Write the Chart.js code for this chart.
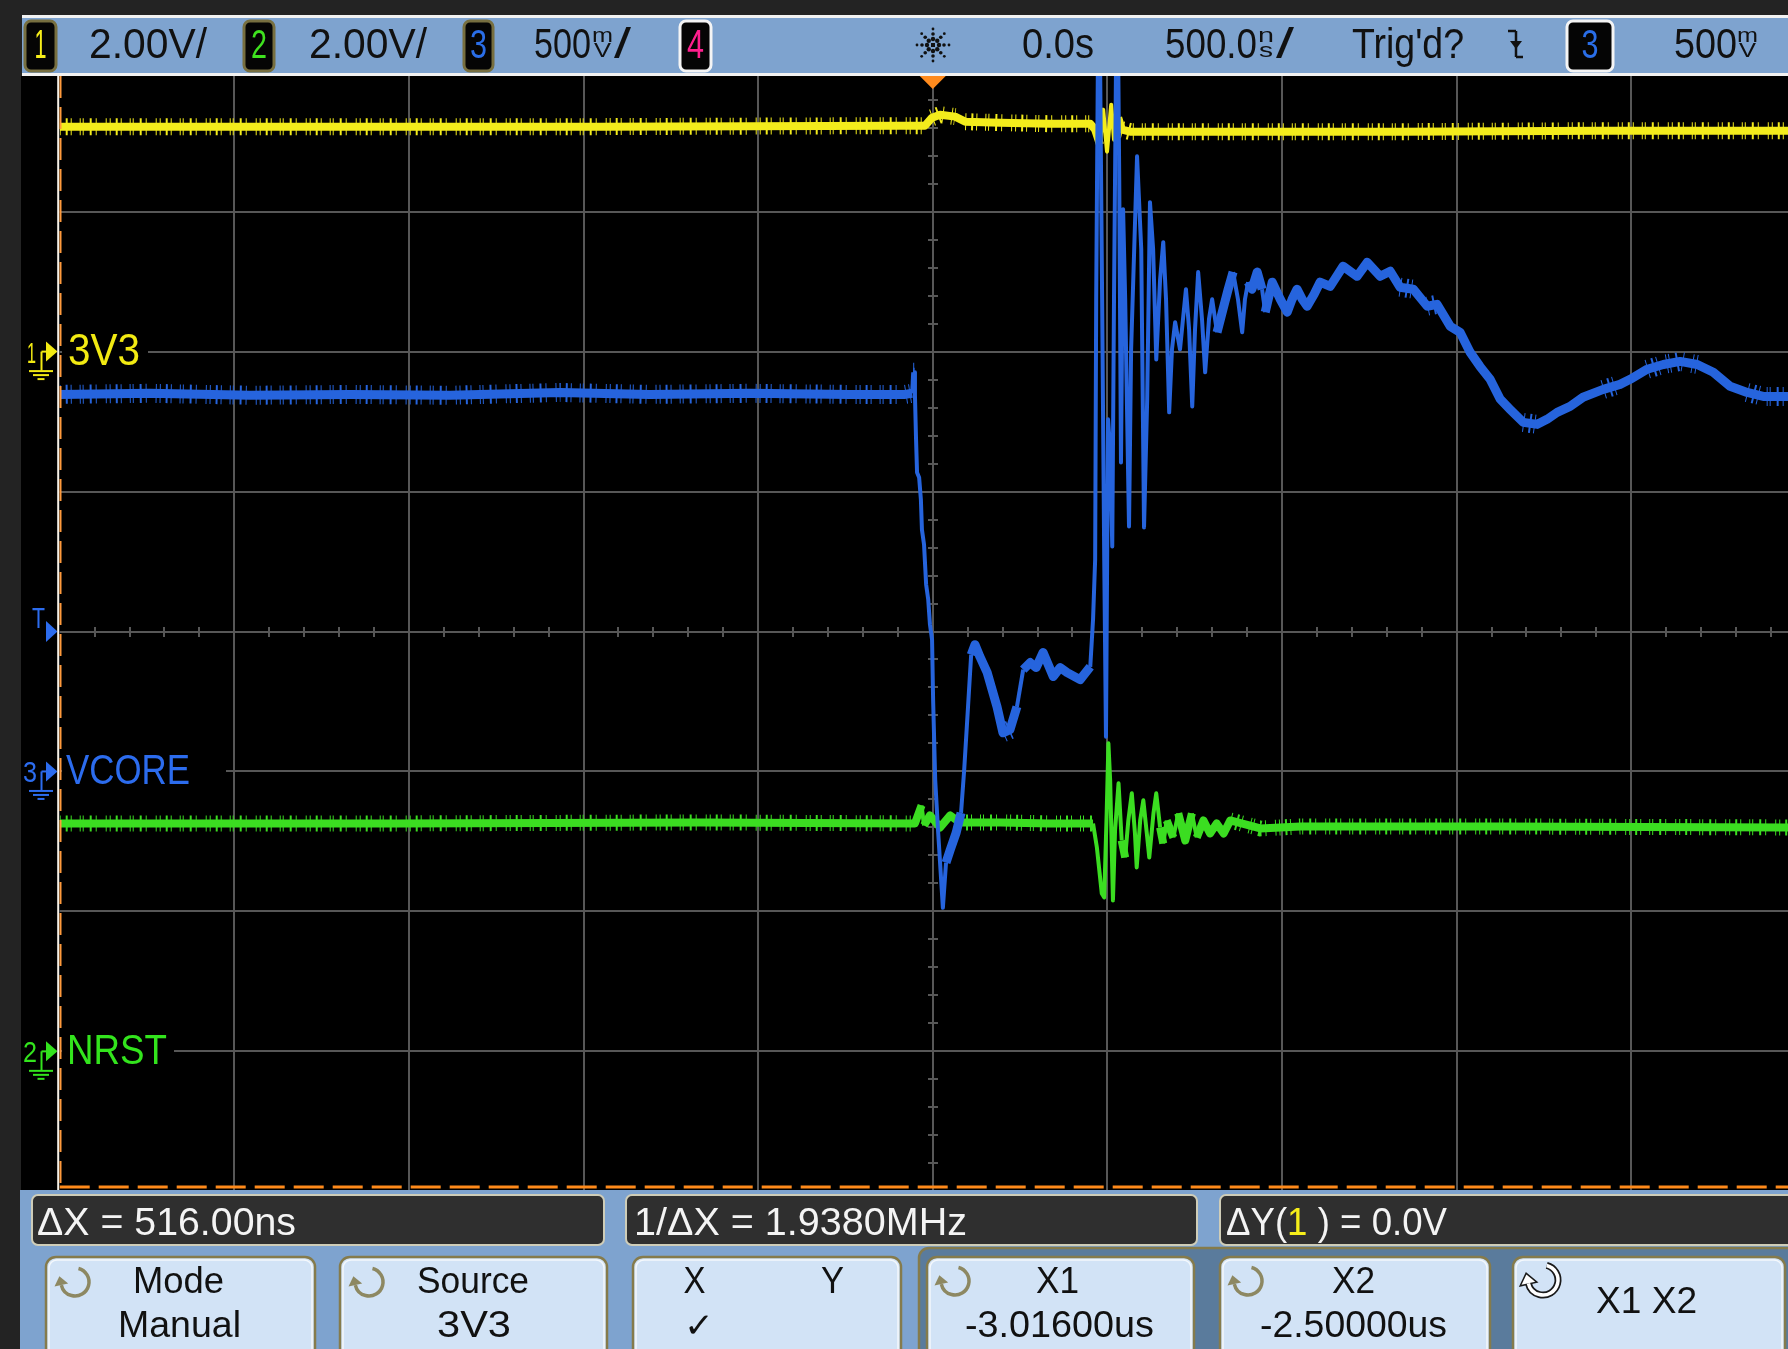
<!DOCTYPE html>
<html>
<head>
<meta charset="utf-8">
<script src="https://cdn.jsdelivr.net/npm/chart.js@4.4.1/dist/chart.umd.min.js"></script>
<style>
html, body { margin: 0; padding: 0; background: #232323; }
canvas { display: block; }
</style>
</head>
<body>
<canvas id="scope" width="1788" height="1349"></canvas>
<script>
// ---- Channel 1: 3V3 rail (2.00 V/div) ----
const time3V3 = [-2500, -1812, -953, -94, -22, -2, 21, 64, 93, 193, 336, 451, 465, 479, 488, 499, 511, 519, 531, 542, 565, 766, 1338, 1911, 2450];
const volts3V3 = [3.215, 3.215, 3.215, 3.229, 3.229, 3.343, 3.386, 3.358, 3.286, 3.272, 3.257, 3.257, 3.172, 2.957, 3.458, 2.857, 3.529, 3.029, 3.343, 3.172, 3.143, 3.143, 3.143, 3.157, 3.157];

// ---- Channel 3: VCORE (500 mV/div) ----
const timeVcore = [-2500, -2242, -1955, -1669, -1382, -1067, -810, -523, -237, -79,
  -59, -56, -52, -51, -48, -45, -39, -34, -31, -25,
  -19, -13, -8, -2, 1, 7, 15, 24, 29, 38,
  50, 67, 81, 90, 101, 110, 121, 135, 156, 184,
  201, 221, 241, 259, 279, 296, 316, 345, 365, 385,
  422, 451, 459, 465, 468, 473, 479, 485, 491, 496,
  502, 508, 514, 519, 525, 531, 534, 539, 545, 551,
  562, 568, 585, 597, 605, 614, 622, 631, 640, 651,
  660, 668, 677, 685, 694, 708, 725, 734, 743, 751,
  760, 771, 780, 791, 800, 814, 831, 846, 860, 874,
  886, 894, 903, 914, 929, 943, 952, 972, 995, 1015,
  1029, 1043, 1058, 1072, 1092, 1109, 1138, 1175, 1215, 1244,
  1281, 1310, 1338, 1376, 1416, 1444, 1482, 1510, 1539, 1567,
  1596, 1625, 1653, 1691, 1731, 1759, 1788, 1825, 1862, 1920,
  1968, 1997, 2046, 2092, 2140, 2189, 2235, 2283, 2332, 2378,
  2450];
const voltsVcore = [1.347, 1.351, 1.344, 1.347, 1.344, 1.354, 1.347, 1.351, 1.347, 1.347,
  1.351, 1.426, 1.426, 1.344, 1.193, 1.068, 1.050, 0.972, 0.864, 0.811,
  0.668, 0.614, 0.525, 0.471, 0.257, -0.030, -0.208, -0.387, -0.487, -0.326,
  -0.280, -0.219, -0.148, 0.006, 0.231, 0.417, 0.453, 0.410, 0.353, 0.231,
  0.138, 0.149, 0.231, 0.364, 0.389, 0.371, 0.425, 0.339, 0.371, 0.353,
  0.328, 0.374, 0.543, 0.757, 1.687, 2.56, 2.56, 1.687, 0.757, 0.124,
  1.258, 1.151, 0.804, 1.687, 2.56, 2.56, 2.116, 1.104, 2.009, 1.687,
  0.875, 1.508, 2.198, 1.866, 0.872, 1.329, 2.034, 1.866, 1.472, 1.758,
  1.891, 1.687, 1.283, 1.508, 1.605, 1.508, 1.723, 1.580, 1.304, 1.580,
  1.784, 1.616, 1.426, 1.616, 1.687, 1.569, 1.651, 1.723, 1.784, 1.687,
  1.569, 1.687, 1.748, 1.723, 1.784, 1.723, 1.641, 1.748, 1.687, 1.641,
  1.687, 1.723, 1.687, 1.662, 1.705, 1.748, 1.733, 1.805, 1.769, 1.819,
  1.769, 1.787, 1.730, 1.723, 1.662, 1.669, 1.590, 1.569, 1.497, 1.447,
  1.401, 1.330, 1.294, 1.247, 1.240, 1.258, 1.283, 1.304, 1.337, 1.365,
  1.383, 1.401, 1.437, 1.454, 1.465, 1.454, 1.426, 1.376, 1.354, 1.340,
  1.340];

// ---- Channel 2: NRST (2.00 V/div) ----
const timeNrst = [-2500, -1526, -666, -51, -32, -25, -8, 21, 50, 78,
  193, 336, 459, 470, 484, 491, 498, 503, 508, 516,
  522, 532, 541, 551, 560, 570, 579, 584, 594, 603,
  613, 620, 632, 640, 651, 660, 670, 689, 703, 723,
  742, 756, 775, 794, 813, 833, 852, 938, 1052, 1625,
  2450];
const voltsNrst = [3.257, 3.257, 3.272, 3.257, 3.515, 3.229, 3.372, 3.200, 3.372, 3.272,
  3.272, 3.257, 3.257, 2.914, 2.256, 2.199, 3.401, 4.402, 3.873, 2.157,
  3.158, 3.830, 3.014, 2.771, 3.300, 3.687, 3.114, 2.628, 3.300, 3.587,
  3.114, 2.771, 3.401, 3.687, 3.200, 2.971, 3.300, 3.057, 3.401, 3.014,
  3.401, 3.057, 3.300, 3.114, 3.257, 3.114, 3.300, 3.186, 3.214, 3.214,
  3.200];

// ---- Vertical setup: [ch1 3V3, ch2 NRST, ch3 VCORE] ----
const channelNames = ['3V3', 'NRST', 'VCORE'];
const channelNumbers = ['1', '2', '3'];
const voltsPerDiv = [2.0, 2.0, 0.5];
const groundDiv = [2, -3, -1];          // ground marker, divisions above centre
const traceColors = ['#f3ec1c', '#3bdd21', '#2664dd'];
const labelColors = ['#f2ea12', '#33e41d', '#2c6cee'];

// ---- Horizontal setup ----
const nsPerDiv = 500;
const timeStart = -2500;
const timeEnd = 2449;
const triggerLevelV = 0.5;              // on channel 3
const cursorX1ns = -3016;
const cursorX2ns = -2500;
const cursorYV = -11.95;                // channel 1 Y cursors

// ---- Status line and readout texts ----
const scaleTexts = ['2.00V/', '2.00V/', '500'];
const timeTexts = ['0.0s', '500.0', 'Trig\'d?', '500'];
const readouts = ['\u0394X = 516.00ns', '1/\u0394X = 1.9380MHz'];
const softkeyTop = ['Mode', 'Source', 'X', 'X1', 'X2'];
const softkeyBottom = ['Manual', '3V3', '\u2713', '-3.01600us', '-2.50000us'];

const UI_FONT = '"Liberation Sans", Arial, sans-serif';

function rangeFor(i) {
  return { min: (-4 - groundDiv[i]) * voltsPerDiv[i], max: (4 - groundDiv[i]) * voltsPerDiv[i] };
}
function toPoints(ts, vs) { return ts.map((t, i) => ({ x: t, y: vs[i] })); }

// text squeezed/stretched horizontally to a given width
function fitText(g, str, left, base, size, width, color, font) {
  g.font = size + 'px ' + (font || UI_FONT);
  const w = g.measureText(str).width;
  g.save();
  g.translate(left, base);
  g.scale(width / w, 1);
  g.fillStyle = color;
  g.textAlign = 'left';
  g.textBaseline = 'alphabetic';
  g.fillText(str, 0, 0);
  g.restore();
}
function fitCenter(g, str, cx, base, size, width, color, font) {
  fitText(g, str, cx - width / 2, base, size, width, color, font);
}
function roundRect(g, x, y, w, h, r) {
  g.beginPath();
  g.moveTo(x + r, y);
  g.lineTo(x + w - r, y);
  g.arcTo(x + w, y, x + w, y + r, r);
  g.lineTo(x + w, y + h - r);
  g.arcTo(x + w, y + h, x + w - r, y + h, r);
  g.lineTo(x + r, y + h);
  g.arcTo(x, y + h, x, y + h - r, r);
  g.lineTo(x, y + r);
  g.arcTo(x, y, x + r, y, r);
  g.closePath();
}
function line(g, x1, y1, x2, y2) {
  g.beginPath(); g.moveTo(x1, y1); g.lineTo(x2, y2); g.stroke();
}

// steep edges are drawn as a thin line, flat stretches as a wide noise band
function isSteep(c) {
  const dx = Math.abs(c.p1.x - c.p0.x), dy = Math.abs(c.p1.y - c.p0.y);
  return dy > 4 * dx + 4 || (dx < 3 && dy > 3);
}
function isFlat(c) {
  const dx = Math.abs(c.p1.x - c.p0.x), dy = Math.abs(c.p1.y - c.p0.y);
  return dy < 0.3 * dx + 1;
}
function segWidth(wide) {
  return (c) => (isSteep(c) ? 4 : wide);
}
const flatOnly = (c) => (isFlat(c) ? undefined : 'rgba(0,0,0,0)');

function chanBox(g, x, y, w, h, num, color, border, numW) {
  roundRect(g, x, y, w, h, 6);
  g.fillStyle = '#050505';
  g.fill();
  g.lineWidth = 3;
  g.strokeStyle = border;
  g.stroke();
  fitCenter(g, num, x + w / 2, y + h - 13, 40, numW, color);
}

function groundMarker(g, num, py, color, numLeft, numW) {
  fitText(g, num, numLeft, py + 11, 29, numW, color);
  g.fillStyle = color;
  g.beginPath();
  g.moveTo(46, py - 10); g.lineTo(46, py + 10); g.lineTo(57.5, py); g.closePath();
  g.fill();
  g.strokeStyle = color; g.lineWidth = 2;
  line(g, 41.5, py, 46, py);
  line(g, 41.5, py, 41.5, py + 19);
  line(g, 29, py + 19.5, 53, py + 19.5);
  line(g, 33, py + 23.5, 49, py + 23.5);
  line(g, 37.5, py + 27.5, 44.5, py + 27.5);
}

function cycleIcon(g, cx, cy, r, color, outline) {
  const a0 = -0.42 * Math.PI, a1 = 0.93 * Math.PI;
  const ex = cx + r * Math.cos(a1), ey = cy + r * Math.sin(a1);
  const tx = -Math.sin(a1), ty = Math.cos(a1);
  const nx = -ty, ny = tx;
  const head = () => {
    g.beginPath();
    g.moveTo(ex + tx * 9, ey + ty * 9);
    g.lineTo(ex + nx * 7, ey + ny * 7);
    g.lineTo(ex - nx * 7, ey - ny * 7);
    g.closePath();
  };
  if (outline) {
    g.strokeStyle = outline; g.lineWidth = 7;
    g.beginPath(); g.arc(cx, cy, r, a0, a1); g.stroke();
    head(); g.lineWidth = 3; g.stroke();
  }
  g.strokeStyle = color; g.lineWidth = 3.5;
  g.beginPath(); g.arc(cx, cy, r, a0, a1); g.stroke();
  head(); g.fillStyle = color; g.fill();
}

function softkey(g, x, w) {
  roundRect(g, x, 1257, w, 110, 10);
  g.fillStyle = '#d2e3f6';
  g.fill();
  g.lineWidth = 2.5;
  g.strokeStyle = '#857b4c';
  g.stroke();
  roundRect(g, x + 3, 1260, w - 6, 104, 8);
  g.lineWidth = 1.5;
  g.strokeStyle = '#f4f8fc';
  g.stroke();
}

function readoutBox(g, x, w) {
  roundRect(g, x, 1195, w, 50, 6);
  g.fillStyle = '#2f2f2f';
  g.fill();
  g.lineWidth = 2;
  g.strokeStyle = '#cfcdb8';
  g.stroke();
}

const scopeChrome = {
  id: 'scopeChrome',
  beforeDraw(chart) {
    const g = chart.ctx;
    g.save();
    g.fillStyle = '#232323';
    g.fillRect(0, 0, 1788, 1349);
    g.fillStyle = '#000';
    g.fillRect(21, 76, 1767, 1116);
    g.restore();
  },
  beforeDatasetsDraw(chart) {
    const g = chart.ctx, xs = chart.scales.x, yd = chart.scales.ydiv, area = chart.chartArea;
    g.save();
    // division grid
    g.strokeStyle = '#575757';
    g.lineWidth = 2;
    for (let t = timeStart + nsPerDiv; t <= timeEnd; t += nsPerDiv) {
      const px = Math.round(xs.getPixelForValue(t));
      line(g, px, 76, px, 1190);
    }
    for (let d = -3; d <= 3; d++) {
      const py = Math.round(yd.getPixelForValue(d));
      line(g, area.left, py, 1788, py);
    }
    // minor ticks on the centre lines
    const cx = Math.round(xs.getPixelForValue(0)), cy = Math.round(yd.getPixelForValue(0));
    for (let k = 1; k < 50; k++) {
      const px = Math.round(xs.getPixelForValue(timeStart + k * nsPerDiv / 5));
      line(g, px, cy - 5, px, cy + 5);
    }
    for (let k = -19; k <= 19; k++) {
      const py = Math.round(yd.getPixelForValue(k / 5));
      line(g, cx - 5, py, cx + 5, py);
    }
    // channel labels over the grid
    const y1 = chart.scales.y1, y2 = chart.scales.y2, y3 = chart.scales.y3;
    const gy = [y1.getPixelForValue(0), y2.getPixelForValue(0), y3.getPixelForValue(0)];
    g.fillStyle = '#000';
    g.fillRect(62, gy[0] - 22, 86, 44);
    g.fillRect(62, gy[2] - 22, 164, 44);
    g.fillRect(62, gy[1] - 22, 112, 44);
    fitText(g, channelNames[0], 68, gy[0] + 13.5, 44, 72, labelColors[0]);
    fitText(g, channelNames[2], 66, gy[2] + 13, 43, 124, labelColors[2]);
    fitText(g, channelNames[1], 67, gy[1] + 12.5, 43, 100, labelColors[1]);
    g.restore();
  },
  afterDraw(chart) {
    const g = chart.ctx, xs = chart.scales.x;
    const y1 = chart.scales.y1, y2 = chart.scales.y2, y3 = chart.scales.y3;
    g.save();

    // ground markers and trigger level
    groundMarker(g, channelNumbers[0], y1.getPixelForValue(0), labelColors[0], 27, 9);
    groundMarker(g, channelNumbers[2], y3.getPixelForValue(0), labelColors[2], 23, 14);
    groundMarker(g, channelNumbers[1], y2.getPixelForValue(0), labelColors[1], 23, 14);
    const ty = y3.getPixelForValue(triggerLevelV);
    fitText(g, 'T', 32, ty - 3.5, 29, 13, labelColors[2]);
    g.fillStyle = labelColors[2];
    g.beginPath(); g.moveTo(46, ty - 10.5); g.lineTo(46, ty + 10.5); g.lineTo(57.5, ty); g.closePath(); g.fill();

    // cursors: X2 on the left edge, Y cursors at the bottom
    const cxp = xs.getPixelForValue(cursorX2ns);
    g.strokeStyle = '#f6f1e8'; g.lineWidth = 2;
    line(g, cxp - 1.5, 76, cxp - 1.5, 1190);
    g.strokeStyle = '#ff9a3c'; g.lineWidth = 2; g.setLineDash([22, 9]);
    line(g, cxp + 0.8, 76, cxp + 0.8, 1190);
    const cyp = Math.min(1187, y1.getPixelForValue(cursorYV));
    g.strokeStyle = '#ff8a1a'; g.lineWidth = 3; g.setLineDash([30, 9]);
    line(g, cxp, cyp, 1788, cyp);
    g.setLineDash([]);

    // ---- status line ----
    g.fillStyle = '#f2f2f2';
    g.fillRect(22, 15, 1766, 61);
    g.fillStyle = '#7ea3cf';
    g.fillRect(22, 18, 1766, 55);

    chanBox(g, 25, 21, 31, 50, channelNumbers[0], '#f6ee1a', '#776f40', 12);
    fitText(g, scaleTexts[0], 89, 58, 42, 118, '#111');
    chanBox(g, 244, 21, 30, 50, channelNumbers[1], '#3fe21f', '#776f40', 16);
    fitText(g, scaleTexts[1], 309, 58, 42, 118, '#111');
    chanBox(g, 464, 21, 29, 50, channelNumbers[2], '#2a6ee8', '#776f40', 17);
    fitText(g, scaleTexts[2], 534, 58, 42, 57, '#111');
    fitText(g, 'm', 592, 42, 21, 21, '#111');
    fitText(g, 'V', 594, 57, 20, 17, '#111');
    fitText(g, '/', 614, 58, 42, 17, '#111');
    chanBox(g, 680, 21, 31, 50, '4', '#ff1f8e', '#f4f4f4', 17);

    // starburst logo
    g.fillStyle = '#111';
    const lx = 933, ly = 45;
    for (let k = 0; k < 8; k++) {
      const a = k * Math.PI / 4;
      [[6, 2.2], [11, 1.8], [16, 1.4]].forEach(([rr, s]) => {
        g.beginPath(); g.arc(lx + rr * Math.cos(a), ly + rr * Math.sin(a), s, 0, 2 * Math.PI); g.fill();
      });
    }
    g.fillRect(lx - 2, ly - 2, 4, 4);

    fitText(g, timeTexts[0], 1022, 58, 42, 72, '#111');
    fitText(g, timeTexts[1], 1165, 58, 42, 92, '#111');
    fitText(g, 'n', 1258, 42, 21, 16, '#111');
    fitText(g, 's', 1259, 57, 20, 14, '#111');
    fitText(g, '/', 1276, 58, 42, 18, '#111');
    fitText(g, timeTexts[2], 1352, 58, 42, 112, '#111');
    // falling-edge trigger symbol
    g.strokeStyle = '#111'; g.lineWidth = 2.5;
    line(g, 1508, 31, 1516, 31);
    line(g, 1516, 31, 1516, 57);
    line(g, 1516, 57, 1523, 57);
    g.fillStyle = '#111';
    g.beginPath(); g.moveTo(1510, 41); g.lineTo(1522, 41); g.lineTo(1516, 49); g.closePath(); g.fill();
    chanBox(g, 1567, 21, 46, 50, channelNumbers[2], '#2a6ee8', '#f4f4f4', 17);
    fitText(g, timeTexts[3], 1674, 58, 42, 63, '#111');
    fitText(g, 'm', 1737, 42, 21, 21, '#111');
    fitText(g, 'V', 1739, 57, 20, 17, '#111');

    // trigger time marker
    const tx = xs.getPixelForValue(0);
    g.fillStyle = '#ff8b1e';
    g.beginPath(); g.moveTo(tx - 13, 76); g.lineTo(tx + 13, 76); g.lineTo(tx, 89); g.closePath(); g.fill();

    // ---- softkey panel ----
    g.fillStyle = '#232323';
    g.fillRect(0, 1190, 20, 159);
    g.fillStyle = '#7ea3cf';
    g.fillRect(20, 1190, 1768, 159);

    readoutBox(g, 32, 572);
    readoutBox(g, 626, 571);
    readoutBox(g, 1220, 590);
    fitText(g, readouts[0], 37, 1235, 38, 259, '#f4f4f4');
    fitText(g, readouts[1], 634, 1235, 38, 333, '#f4f4f4');
    // ΔY(1) = 0.0V with the channel number in its colour
    g.font = '38px ' + UI_FONT;
    const parts = ['\u0394Y(', '1', ' ) = 0.0V'];
    const natural = parts.map(p => g.measureText(p).width);
    const sx = 221 / natural.reduce((a, b) => a + b, 0);
    let px = 1226;
    parts.forEach((p, i) => {
      fitText(g, p, px, 1235, 38, natural[i] * sx, i === 1 ? '#f6ee1a' : '#f4f4f4');
      px += natural[i] * sx;
    });

    // grouped cursor keys backdrop
    roundRect(g, 919, 1248, 900, 120, 10);
    g.fillStyle = '#5a7b9c';
    g.fill();
    g.lineWidth = 2.5;
    g.strokeStyle = '#857b4c';
    g.stroke();

    softkey(g, 46, 269);
    softkey(g, 340, 267);
    softkey(g, 633, 268);
    softkey(g, 927, 267);
    softkey(g, 1220, 270);
    softkey(g, 1513, 272);

    cycleIcon(g, 75, 1282, 14, '#8d8862');
    cycleIcon(g, 369, 1282, 14, '#8d8862');
    cycleIcon(g, 955, 1281, 14, '#8d8862');
    cycleIcon(g, 1248, 1281, 14, '#8d8862');
    cycleIcon(g, 1543, 1280, 15, '#ffffff', '#1a1a1a');

    fitCenter(g, softkeyTop[0], 178.5, 1293, 36, 91, '#111');
    fitCenter(g, softkeyBottom[0], 179.5, 1337, 36, 123, '#111');
    fitCenter(g, softkeyTop[1], 473, 1293, 36, 112, '#111');
    fitCenter(g, softkeyBottom[1], 474, 1337, 36, 74, '#111');
    fitCenter(g, softkeyTop[2], 694.5, 1293, 36, 22, '#111');
    fitCenter(g, 'Y', 832.5, 1293, 36, 23, '#111');
    fitCenter(g, softkeyBottom[2], 699, 1337, 34, 30, '#111', '"DejaVu Sans", sans-serif');
    fitCenter(g, softkeyTop[3], 1057.5, 1293, 36, 43, '#111');
    fitCenter(g, softkeyBottom[3], 1059.5, 1337, 36, 189, '#111');
    fitCenter(g, softkeyTop[4], 1353.5, 1293, 36, 43, '#111');
    fitCenter(g, softkeyBottom[4], 1353.5, 1337, 36, 187, '#111');
    fitCenter(g, 'X1 X2', 1646.5, 1313, 36, 101, '#111');

    g.restore();
  }
};

const datasetBase = {
  pointRadius: 0,
  tension: 0,
  borderJoinStyle: 'round',
  fill: false
};

// acquisition noise fringe: short perpendicular ticks along the flat parts of a trace
const fringeDash = [1, 5, 2, 3, 1, 8, 1, 2, 1, 6, 2, 4, 1, 9, 1, 3];
function traceSet(name, ts, vs, axis, color, wide, order) {
  return Object.assign({}, datasetBase, {
    label: name, data: toPoints(ts, vs), yAxisID: axis,
    borderColor: color, borderWidth: wide, segment: { borderWidth: segWidth(wide) }, order: order
  });
}
function fringeSet(name, ts, vs, axis, color, wide, order) {
  return Object.assign({}, datasetBase, {
    label: name + ' noise', data: toPoints(ts, vs), yAxisID: axis,
    borderColor: color, borderWidth: wide, borderDash: fringeDash,
    borderCapStyle: 'butt', borderJoinStyle: 'miter', segment: { borderColor: flatOnly }, order: order
  });
}

new Chart(document.getElementById('scope'), {
  type: 'line',
  data: {
    datasets: [
      traceSet(channelNames[2], timeVcore, voltsVcore, 'y3', traceColors[2], 9, 0),
      fringeSet(channelNames[2], timeVcore, voltsVcore, 'y3', traceColors[2], 19, 1),
      traceSet(channelNames[1], timeNrst, voltsNrst, 'y2', traceColors[1], 8, 2),
      fringeSet(channelNames[1], timeNrst, voltsNrst, 'y2', traceColors[1], 16, 3),
      traceSet(channelNames[0], time3V3, volts3V3, 'y1', traceColors[0], 8, 4),
      fringeSet(channelNames[0], time3V3, volts3V3, 'y1', traceColors[0], 17, 5)
    ]
  },
  options: {
    responsive: false,
    animation: false,
    devicePixelRatio: 1,
    parsing: false,
    layout: { padding: { left: 59.7, right: 0, top: 71.7, bottom: 157.7 } },
    plugins: { legend: { display: false }, tooltip: { enabled: false } },
    events: [],
    scales: {
      x: { type: 'linear', min: timeStart, max: timeEnd, display: false },
      y1: Object.assign({ type: 'linear', display: false }, rangeFor(0)),
      y2: Object.assign({ type: 'linear', display: false }, rangeFor(1)),
      y3: Object.assign({ type: 'linear', display: false }, rangeFor(2)),
      ydiv: { type: 'linear', min: -4, max: 4, display: false }
    }
  },
  plugins: [scopeChrome]
});
</script>
</body>
</html>
